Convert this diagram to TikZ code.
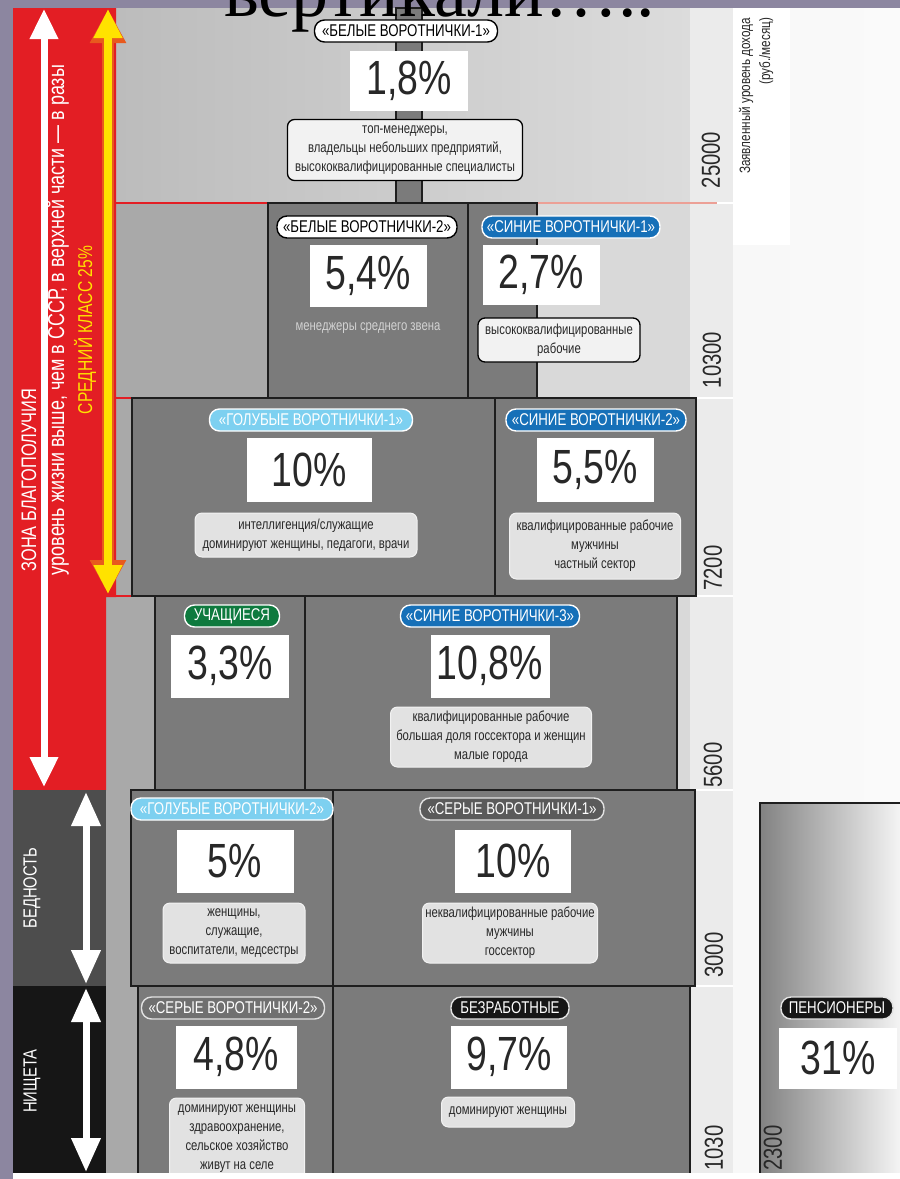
\documentclass[tikz,border=0pt]{standalone}
\usepackage{fontspec}
\newfontfamily\condfont[FakeStretch=0.78]{Liberation Sans}
\newfontfamily\titlefont{Liberation Serif}
\usetikzlibrary{arrows.meta}
\begin{document}
\begin{tikzpicture}[x=1pt,y=-1pt,
    pill/.style={rounded corners=10pt,line width=1.4pt,inner xsep=4pt,inner ysep=0pt,minimum height=22pt,font=\condfont\fontsize{17}{17}\selectfont},
    whitepill/.style={pill,fill=white,draw=black,text=black},
    bluepill/.style={pill,fill=r22g112b184,draw=white,text=white},
    skypill/.style={pill,fill=r125g208b240,draw=white,text=white},
    greenpill/.style={pill,fill=r14g122b62,draw=white,text=white},
    greypill/.style={pill,fill=r90g90b90,draw=r226g226b226,text=white},
    blackpill/.style={pill,fill=r22g22b22,draw=r226g226b226,text=white},
    pctbox/.style={fill=white,inner sep=0pt,text=r40g40b40,font=\condfont\fontsize{48}{48}\selectfont},
    descbox/.style={rounded corners=7pt,fill=r226g226b226,draw=r242g242b242,line width=1pt,align=center,inner sep=2pt,text=r40g40b40,font=\condfont\fontsize{14.5}{19}\selectfont},
    framedesc/.style={descbox,fill=r242g242b242,draw=black,line width=1.3pt},
    groupbox/.style={fill=r123g123b123,draw=r30g30b30,line width=2.5pt},
    axisnum/.style={rotate=90,inner sep=0pt,text=r40g40b40,font=\condfont\fontsize{26}{26}\selectfont},
    bandtext/.style={rotate=90,inner sep=0pt,text=white,font=\condfont\fontsize{21}{21}\selectfont}]

    % Changing color 140 134 160
    \definecolor{r140g134b160}{rgb}{0.549020,0.525490,0.627451}%
    \definecolor{r227g30b36}{rgb}{0.890196,0.117647,0.141176}%
    \definecolor{r255g226b0}{rgb}{1.000000,0.886275,0.000000}%
    \definecolor{r232g90b30}{rgb}{0.909804,0.352941,0.117647}%
    \definecolor{r169g169b169}{rgb}{0.662745,0.662745,0.662745}%
    \definecolor{r188g188b188}{rgb}{0.737255,0.737255,0.737255}%
    \definecolor{r220g220b220}{rgb}{0.862745,0.862745,0.862745}%
    \definecolor{r217g217b217}{rgb}{0.850980,0.850980,0.850980}%
    \definecolor{r235g235b235}{rgb}{0.921569,0.921569,0.921569}%
    \definecolor{r238g238b238}{rgb}{0.933333,0.933333,0.933333}%
    \definecolor{r250g250b250}{rgb}{0.980392,0.980392,0.980392}%
    \definecolor{r123g123b123}{rgb}{0.482353,0.482353,0.482353}%
    \definecolor{r30g30b30}{rgb}{0.117647,0.117647,0.117647}%
    \definecolor{r77g77b77}{rgb}{0.301961,0.301961,0.301961}%
    \definecolor{r22g22b22}{rgb}{0.086275,0.086275,0.086275}%
    \definecolor{r125g208b240}{rgb}{0.490196,0.815686,0.941176}%
    \definecolor{r22g112b184}{rgb}{0.086275,0.439216,0.721569}%
    \definecolor{r14g122b62}{rgb}{0.054902,0.478431,0.243137}%
    \definecolor{r90g90b90}{rgb}{0.352941,0.352941,0.352941}%
    \definecolor{r112g112b112}{rgb}{0.439216,0.439216,0.439216}%
    \definecolor{r226g226b226}{rgb}{0.886275,0.886275,0.886275}%
    \definecolor{r242g242b242}{rgb}{0.949020,0.949020,0.949020}%
    \definecolor{r40g40b40}{rgb}{0.156863,0.156863,0.156863}%
    \definecolor{r236g160b150}{rgb}{0.925490,0.627451,0.588235}%
    \definecolor{r130g130b130}{rgb}{0.509804,0.509804,0.509804}%
    \definecolor{r244g244b244}{rgb}{0.956863,0.956863,0.956863}%
    \definecolor{r210g210b210}{rgb}{0.823529,0.823529,0.823529}%
    \useasboundingbox (0,0) rectangle (900,1179);

    % Filling slide background
    \fill[r140g134b160] (0,0) rectangle (900,1179);
    \shade[left color=r238g238b238,right color=r250g250b250] (13,8) rectangle (900,1173);

    % Filling top row and grey strips
    \shade[left color=r188g188b188,right color=r220g220b220] (116,8) rectangle (690,203);
    \fill[r169g169b169] (106,203) rectangle (690,1173);
    \fill[r217g217b217] (537,203) rectangle (690,398);
    \fill[r217g217b217] (677,596) rectangle (690,790);

    % Filling income column
    \fill[r235g235b235] (690,8) rectangle (733,1173);
    \foreach \yy in {203,398,596,790,986}
        \draw[white,line width=1.5pt] (690,\yy) -- (733,\yy);
    \fill[white] (733,8) rectangle (790,245);

    % Filling pensioners column
    \shade[left color=r130g130b130,right color=r244g244b244] (760,803) rectangle (900,1173);
    \draw[r30g30b30,line width=2.5pt] (760,1173) -- (760,803) -- (900,803);

    % Filling left bands
    \fill[r227g30b36] (13,8) -- (116,8) -- (116,597) -- (106,597) -- (106,790) -- (13,790) -- cycle;
    \fill[r77g77b77] (13,790) rectangle (106,986);
    \fill[r22g22b22] (13,986) rectangle (106,1173);

    % Drawing red lines
    \draw[r227g30b36,line width=2pt] (116,203) -- (268,203);
    \draw[r236g160b150,line width=2pt] (537,203) -- (717,203);
    \draw[r227g30b36,line width=2pt] (116,398) -- (132,398);
    \draw[r227g30b36,line width=2pt] (106,596) -- (155,596);

    % Drawing pole of row 1
    \draw[groupbox,line width=2pt] (396,8) rectangle (422,203);

    % Marking slide title
    \node[anchor=base west,inner sep=0pt,font=\titlefont\fontsize{74}{74}\selectfont] (title) at (224,16) {вертикали…..};

    % Drawing group boxes
    \draw[groupbox] (268,203) rectangle (468,398);
    \draw[groupbox] (468,203) rectangle (537,398);
    \draw[groupbox] (132,398) rectangle (495,596);
    \draw[groupbox] (495,398) rectangle (696,596);
    \draw[groupbox] (155,596) rectangle (305,790);
    \draw[groupbox] (305,596) rectangle (677,790);
    \draw[groupbox] (131,790) rectangle (333,986);
    \draw[groupbox] (333,790) rectangle (695,986);
    \draw[groupbox] (138,986) rectangle (333,1176);
    \draw[groupbox] (333,986) rectangle (690,1176);

    % Row 1: white collars 1
    \node[whitepill,minimum width=183pt] (bv1lab) at (406,31) {«БЕЛЫЕ ВОРОТНИЧКИ-1»};
    \node[pctbox,minimum width=118pt,minimum height=60pt] (bv1pct) at (409,81) {1,8\%};
    \node[framedesc,minimum width=235pt,minimum height=61pt] (bv1txt) at (405,150) {топ-менеджеры,\\владельцы небольших предприятий,\\высококвалифицированные специалисты};

    % Row 2: white collars 2, blue collars 1
    \node[whitepill,minimum width=180pt] (bv2lab) at (367,227) {«БЕЛЫЕ ВОРОТНИЧКИ-2»};
    \node[pctbox,minimum width=117pt,minimum height=62pt] (bv2pct) at (368,276) {5,4\%};
    \node[inner sep=0pt,text=r210g210b210,font=\condfont\fontsize{14.5}{19}\selectfont] (bv2txt) at (368,328) {менеджеры среднего звена};
    \node[bluepill,minimum width=178pt] (sv1lab) at (571,227) {«СИНИЕ ВОРОТНИЧКИ-1»};
    \node[pctbox,minimum width=117pt,minimum height=60pt] (sv1pct) at (541,275) {2,7\%};
    \node[framedesc,minimum width=162pt,minimum height=44pt] (sv1txt) at (559,340) {высококвалифицированные\\рабочие};

    % Row 3: light-blue collars 1, blue collars 2
    \node[skypill,minimum width=203pt] (gv1lab) at (311,420) {«ГОЛУБЫЕ ВОРОТНИЧКИ-1»};
    \node[pctbox,minimum width=125pt,minimum height=64pt] (gv1pct) at (309,470) {10\%};
    \node[descbox,minimum width=222pt,minimum height=44pt] (gv1txt) at (306,535) {интеллигенция/служащие\\доминируют женщины, педагоги, врачи};
    \node[bluepill,minimum width=180pt] (sv2lab) at (596,420) {«СИНИЕ ВОРОТНИЧКИ-2»};
    \node[pctbox,minimum width=117pt,minimum height=64pt] (sv2pct) at (595,470) {5,5\%};
    \node[descbox,minimum width=171pt,minimum height=66pt] (sv2txt) at (595,546) {квалифицированные рабочие\\мужчины\\частный сектор};

    % Row 4: students, blue collars 3
    \node[greenpill,minimum width=95pt] (stlab) at (232,616) {УЧАЩИЕСЯ};
    \node[pctbox,minimum width=118pt,minimum height=63pt] (stpct) at (230,666) {3,3\%};
    \node[bluepill,minimum width=179pt] (sv3lab) at (490,616) {«СИНИЕ ВОРОТНИЧКИ-3»};
    \node[pctbox,minimum width=119pt,minimum height=63pt] (sv3pct) at (490,666) {10,8\%};
    \node[descbox,minimum width=201pt,minimum height=60pt] (sv3txt) at (491,737) {квалифицированные рабочие\\большая доля госсектора и женщин\\малые города};

    % Row 5: light-blue collars 2, grey collars 1
    \node[skypill,minimum width=202pt] (gv2lab) at (232,809) {«ГОЛУБЫЕ ВОРОТНИЧКИ-2»};
    \node[pctbox,minimum width=117pt,minimum height=63pt] (gv2pct) at (235,861) {5\%};
    \node[descbox,minimum width=142pt,minimum height=60pt] (gv2txt) at (234,933) {женщины,\\служащие,\\воспитатели, медсестры};
    \node[greypill,minimum width=184pt] (sr1lab) at (512,809) {«СЕРЫЕ ВОРОТНИЧКИ-1»};
    \node[pctbox,minimum width=116pt,minimum height=63pt] (sr1pct) at (513,861) {10\%};
    \node[descbox,minimum width=175pt,minimum height=60pt] (sr1txt) at (510,933) {неквалифицированные рабочие\\мужчины\\госсектор};

    % Row 6: grey collars 2, unemployed, pensioners
    \node[greypill,fill=r112g112b112,minimum width=183pt] (sr2lab) at (233,1008) {«СЕРЫЕ ВОРОТНИЧКИ-2»};
    \node[pctbox,minimum width=121pt,minimum height=63pt] (sr2pct) at (236,1057) {4,8\%};
    \node[descbox,minimum width=135pt,minimum height=82pt] (sr2txt) at (237,1139) {доминируют женщины\\здравоохранение,\\сельское хозяйство\\живут на селе};
    \node[blackpill,minimum width=118pt] (bzlab) at (510,1008) {БЕЗРАБОТНЫЕ};
    \node[pctbox,minimum width=116pt,minimum height=63pt] (bzpct) at (509,1057) {9,7\%};
    \node[descbox,minimum width=133pt,minimum height=30pt] (bztxt) at (508,1112) {доминируют женщины};
    \node[blackpill,minimum width=112pt] (penslab) at (837,1008) {ПЕНСИОНЕРЫ};
    \node[pctbox,minimum width=118pt,minimum height=61pt] (penspct) at (838,1058) {31\%};

    % Marking income levels
    \node[axisnum] (inc25000) at (711,160) {25000};
    \node[axisnum] (inc10300) at (712,360) {10300};
    \node[axisnum] (inc7200) at (713,568) {7200};
    \node[axisnum] (inc5600) at (713,765) {5600};
    \node[axisnum] (inc3000) at (714,955) {3000};
    \node[axisnum] (inc1030) at (714,1148) {1030};
    \node[axisnum] (inc2300) at (773,1148) {2300};
    \node[rotate=90,align=right,inner sep=0pt,text=r40g40b40,font=\condfont\fontsize{15}{20}\selectfont] (incunit) at (756,96) {Заявленный уровень дохода\\(руб./месяц)};

    % Drawing arrow of welfare zone
    \coordinate (zonetop) at (44,9);
    \coordinate (zonebot) at (44,787);
    \draw[white,line width=7pt,{Triangle[width=27pt,length=30pt]}-{Triangle[width=27pt,length=30pt]}] (zonetop) -- (zonebot);
    \node[bandtext] (zonelab) at (29,480) {ЗОНА БЛАГОПОЛУЧИЯ};
    \node[bandtext,font=\condfont\fontsize{23}{23}\selectfont] (zonenote) at (58,320) {уровень жизни выше, чем в СССР, в верхней части — в разы};

    % Drawing arrow of middle class
    \coordinate (midtop) at (108,9);
    \coordinate (midbot) at (108,594);
    \draw[r232g90b30,line width=12pt,{Triangle[width=34pt,length=34pt]}-{Triangle[width=34pt,length=34pt]}] (midtop) -- (midbot);
    \draw[r255g226b0,line width=8pt,{Triangle[width=27pt,length=29pt]}-{Triangle[width=27pt,length=29pt]}] (midtop) -- (midbot);
    \node[bandtext,text=r255g226b0,font=\condfont\fontsize{20}{20}\selectfont] (midlab) at (85,330) {СРЕДНИЙ КЛАСС 25\%};

    % Drawing arrow of poverty
    \coordinate (povtop) at (86,792);
    \coordinate (povbot) at (86,984);
    \draw[white,line width=7pt,{Triangle[width=28pt,length=34pt]}-{Triangle[width=28pt,length=34pt]}] (povtop) -- (povbot);
    \node[bandtext,font=\condfont\fontsize{19}{19}\selectfont] (povlab) at (32,888) {БЕДНОСТЬ};

    % Drawing arrow of misery
    \coordinate (mistop) at (86,988);
    \coordinate (misbot) at (86,1172);
    \draw[white,line width=7pt,{Triangle[width=28pt,length=34pt]}-{Triangle[width=28pt,length=34pt]}] (mistop) -- (misbot);
    \node[bandtext,font=\condfont\fontsize{19}{19}\selectfont] (mislab) at (32,1081) {НИЩЕТА};

    % Filling bottom strip
    \fill[white] (13,1173) rectangle (900,1179);
\end{tikzpicture}
\end{document}
